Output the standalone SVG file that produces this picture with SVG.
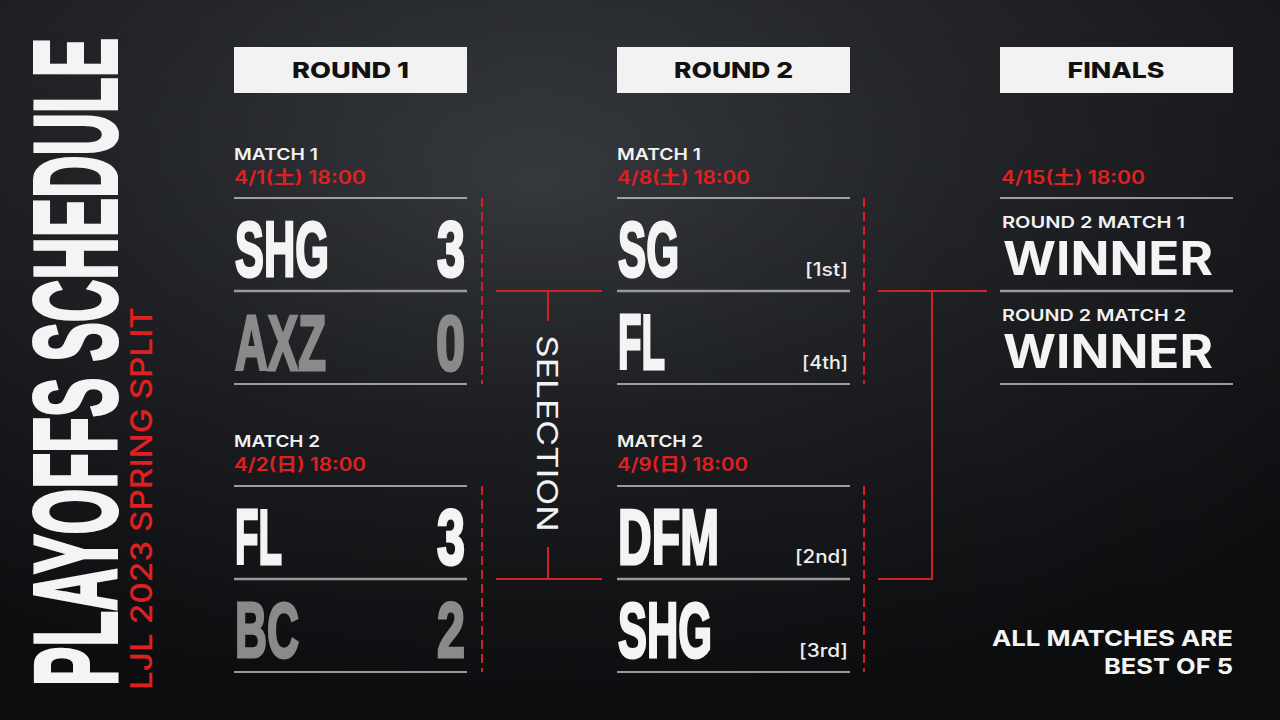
<svg xmlns="http://www.w3.org/2000/svg" width="1280" height="720" viewBox="0 0 1280 720">
<defs>
<radialGradient id="bg1" cx="0.42" cy="0.25" r="0.75">
<stop offset="0" stop-color="#3a3d42"/>
<stop offset="0.45" stop-color="#24262a"/>
<stop offset="1" stop-color="#121316"/>
</radialGradient>
<linearGradient id="bg2" x1="0" y1="0" x2="0" y2="1">
<stop offset="0" stop-color="#000" stop-opacity="0"/>
<stop offset="1" stop-color="#000" stop-opacity="0.35"/>
</linearGradient>
<style>
.hdr{fill:#f2f2f2}
.hdrt{font-family:Inter,"Liberation Sans",sans-serif;font-weight:800;font-size:22px;fill:#111;text-anchor:middle}
.lbl{font-family:Inter,"Liberation Sans",sans-serif;font-weight:600;font-size:16px;fill:#f2f2f2}
.date{font-family:Inter,"Liberation Sans","Noto Sans CJK JP",sans-serif;font-weight:600;font-size:18px;fill:#e02020}
.team{font-family:"Liberation Sans",Roboto,sans-serif;font-weight:700;font-size:78px;fill:#f4f4f4;stroke:#f4f4f4;stroke-width:3;stroke-linejoin:miter}
.lose{fill:#8a8a8a;stroke:#8a8a8a}
.seed{font-family:Inter,"Liberation Sans",sans-serif;font-weight:500;font-size:18px;fill:#eee;text-anchor:end}
.sep{stroke:#c8c8c8;stroke-width:1.5}
.sepm{stroke:#9a9a9a;stroke-width:2.5}
.dash{stroke:#d0202a;stroke-width:2;stroke-dasharray:9 5;fill:none}
.red{stroke:#d0202a;stroke-width:2;fill:none}
.win{font-family:Inter,"Liberation Sans",sans-serif;font-weight:700;font-size:46px;fill:#f4f4f4}
.note{font-family:Inter,"Liberation Sans",sans-serif;font-weight:700;font-size:22px;fill:#f4f4f4;text-anchor:end}
</style>
</defs>
<rect width="1280" height="720" fill="url(#bg1)"/>
<rect width="1280" height="720" fill="url(#bg2)"/>

<g id="title">
<text transform="translate(116,686) rotate(-90)" font-family="'Liberation Sans',Roboto,sans-serif" font-weight="700" font-size="116" fill="#f4f4f4" stroke="#f4f4f4" stroke-width="4" textLength="648" lengthAdjust="spacingAndGlyphs">PLAYOFFS SCHEDULE</text>
<text transform="translate(152,690) rotate(-90)" font-family="Inter,'Liberation Sans',sans-serif" font-weight="500" font-size="30" fill="#e02020" textLength="383" lengthAdjust="spacingAndGlyphs">LJL 2023 SPRING SPLIT</text>
</g>

<g id="header-round1">
<rect class="hdr" x="234" y="47" width="233" height="46"/>
<text class="hdrt" x="350.5" y="78" textLength="117" lengthAdjust="spacingAndGlyphs">ROUND 1</text>
</g>
<g id="header-round2">
<rect class="hdr" x="617" y="47" width="233" height="46"/>
<text class="hdrt" x="733.5" y="78" textLength="119" lengthAdjust="spacingAndGlyphs">ROUND 2</text>
</g>
<g id="header-finals">
<rect class="hdr" x="1000" y="47" width="233" height="46"/>
<text class="hdrt" x="1116" y="78" textLength="97" lengthAdjust="spacingAndGlyphs">FINALS</text>
</g>

<g id="r1-match1">
<text class="lbl" x="234" y="160" textLength="84" lengthAdjust="spacingAndGlyphs">MATCH 1</text>
<text class="date" x="234" y="184" textLength="132" lengthAdjust="spacingAndGlyphs">4/1(土) 18:00</text>
<line class="sep" x1="234" y1="198" x2="467" y2="198"/>
<text class="team" x="235" y="276" textLength="94" lengthAdjust="spacingAndGlyphs">SHG</text>
<text class="team" x="465" y="276" text-anchor="end" textLength="28" lengthAdjust="spacingAndGlyphs">3</text>
<line class="sepm" x1="234" y1="291" x2="467" y2="291"/>
<text class="team lose" x="235" y="370" textLength="91" lengthAdjust="spacingAndGlyphs">AXZ</text>
<text class="team lose" x="465" y="370" text-anchor="end" textLength="29" lengthAdjust="spacingAndGlyphs">0</text>
<line class="sep" x1="234" y1="384" x2="467" y2="384"/>
</g>

<g id="r1-match2">
<text class="lbl" x="234" y="447" textLength="86" lengthAdjust="spacingAndGlyphs">MATCH 2</text>
<text class="date" x="234" y="471" textLength="132" lengthAdjust="spacingAndGlyphs">4/2(日) 18:00</text>
<line class="sep" x1="234" y1="486" x2="467" y2="486"/>
<text class="team" x="235" y="564" textLength="47" lengthAdjust="spacingAndGlyphs">FL</text>
<text class="team" x="465" y="564" text-anchor="end" textLength="28" lengthAdjust="spacingAndGlyphs">3</text>
<line class="sepm" x1="234" y1="579" x2="467" y2="579"/>
<text class="team lose" x="235" y="657" textLength="64" lengthAdjust="spacingAndGlyphs">BC</text>
<text class="team lose" x="465" y="657" text-anchor="end" textLength="28" lengthAdjust="spacingAndGlyphs">2</text>
<line class="sep" x1="234" y1="672" x2="467" y2="672"/>
</g>

<g id="r2-match1">
<text class="lbl" x="617" y="160" textLength="84" lengthAdjust="spacingAndGlyphs">MATCH 1</text>
<text class="date" x="617" y="184" textLength="133" lengthAdjust="spacingAndGlyphs">4/8(土) 18:00</text>
<line class="sep" x1="617" y1="198" x2="850" y2="198"/>
<text class="team" x="618" y="276" textLength="61" lengthAdjust="spacingAndGlyphs">SG</text>
<text class="seed" x="848" y="276" textLength="43" lengthAdjust="spacingAndGlyphs">[1st]</text>
<line class="sepm" x1="617" y1="291" x2="850" y2="291"/>
<text class="team" x="618" y="369" textLength="47" lengthAdjust="spacingAndGlyphs">FL</text>
<text class="seed" x="848" y="369" textLength="46" lengthAdjust="spacingAndGlyphs">[4th]</text>
<line class="sep" x1="617" y1="384" x2="850" y2="384"/>
</g>

<g id="r2-match2">
<text class="lbl" x="617" y="447" textLength="86" lengthAdjust="spacingAndGlyphs">MATCH 2</text>
<text class="date" x="617" y="471" textLength="131" lengthAdjust="spacingAndGlyphs">4/9(日) 18:00</text>
<line class="sep" x1="617" y1="486" x2="850" y2="486"/>
<text class="team" x="618" y="564" textLength="101" lengthAdjust="spacingAndGlyphs">DFM</text>
<text class="seed" x="848" y="563" textLength="53" lengthAdjust="spacingAndGlyphs">[2nd]</text>
<line class="sepm" x1="617" y1="579" x2="850" y2="579"/>
<text class="team" x="618" y="657" textLength="94" lengthAdjust="spacingAndGlyphs">SHG</text>
<text class="seed" x="848" y="657" textLength="49" lengthAdjust="spacingAndGlyphs">[3rd]</text>
<line class="sep" x1="617" y1="672" x2="850" y2="672"/>
</g>

<g id="finals">
<text class="date" x="1001" y="184" textLength="144" lengthAdjust="spacingAndGlyphs">4/15(土) 18:00</text>
<line class="sep" x1="1000" y1="198" x2="1233" y2="198"/>
<text class="lbl" x="1002" y="228" textLength="183" lengthAdjust="spacingAndGlyphs">ROUND 2 MATCH 1</text>
<text class="win" x="1003" y="275" textLength="210" lengthAdjust="spacingAndGlyphs">WINNER</text>
<line class="sepm" x1="1000" y1="291" x2="1233" y2="291"/>
<text class="lbl" x="1002" y="321" textLength="184" lengthAdjust="spacingAndGlyphs">ROUND 2 MATCH 2</text>
<text class="win" x="1003" y="368" textLength="210" lengthAdjust="spacingAndGlyphs">WINNER</text>
<line class="sep" x1="1000" y1="384" x2="1233" y2="384"/>
</g>

<g id="selection">
<text transform="translate(537,335) rotate(90)" font-family="Inter,'Liberation Sans',sans-serif" font-weight="400" font-size="29" fill="#f2f2f2" textLength="197" lengthAdjust="spacingAndGlyphs">SELECTION</text>
</g>

<g id="note">
<text class="note" x="1233" y="646" textLength="241" lengthAdjust="spacingAndGlyphs">ALL MATCHES ARE</text>
<text class="note" x="1233" y="674" textLength="129" lengthAdjust="spacingAndGlyphs">BEST OF 5</text>
</g>

<g id="connectors">
<line class="dash" x1="482" y1="198" x2="482" y2="384"/>
<line class="dash" x1="482" y1="486" x2="482" y2="672"/>
<polyline class="red" points="496,291 602,291"/>
<line class="red" x1="548" y1="291" x2="548" y2="321"/>
<line class="red" x1="548" y1="547" x2="548" y2="579"/>
<polyline class="red" points="496,579 602,579"/>
<line class="dash" x1="864" y1="198" x2="864" y2="384"/>
<line class="dash" x1="864" y1="486" x2="864" y2="672"/>
<polyline class="red" points="878,291 987,291"/>
<polyline class="red" points="932,291 932,579 878,579"/>
</g>
</svg>
